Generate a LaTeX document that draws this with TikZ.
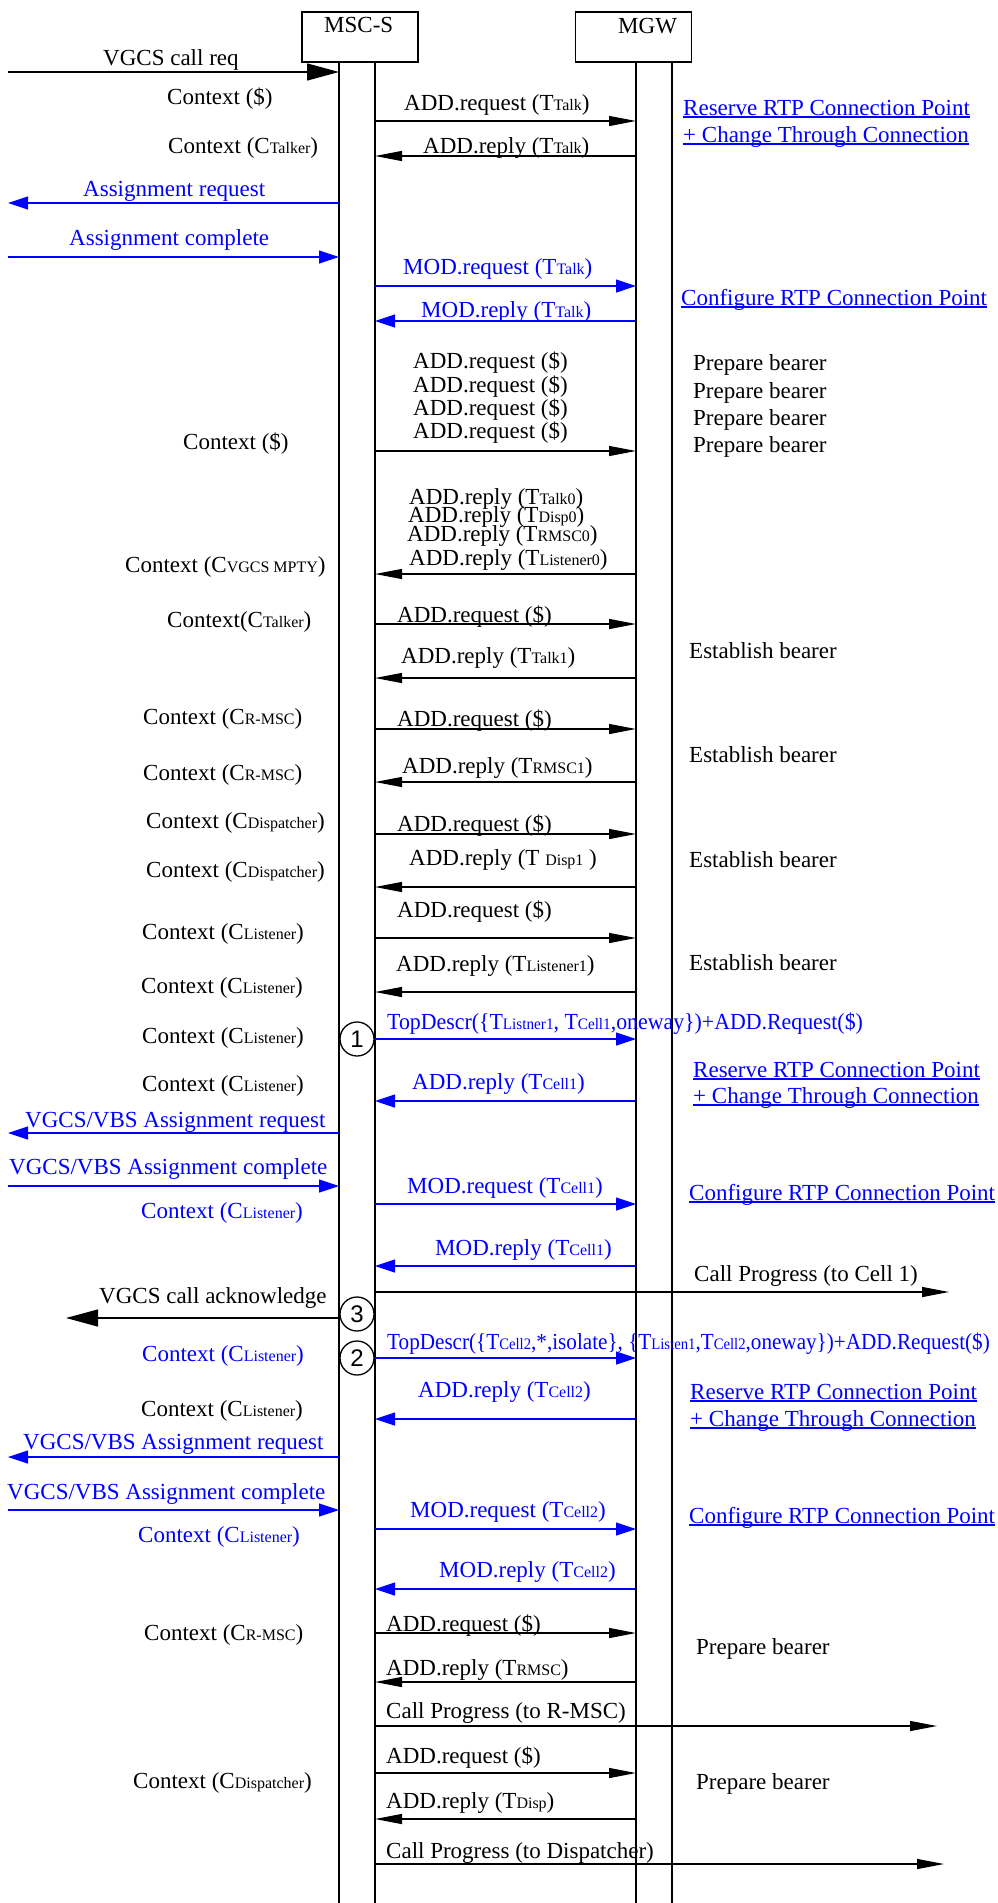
\documentclass[tikz,border=0pt]{standalone}
\usepackage{fontspec}
\setmainfont{Liberation Serif}
\newfontfamily\numfont{Liberation Sans}
\usetikzlibrary{arrows.meta}

\definecolor{sigblue}{RGB}{0,0,255}
\newcommand\msgfont{\fontsize{23}{26}\selectfont}
\newcommand\sm[1]{{\fontsize{16}{16}\selectfont #1}}
\newsavebox\lnkbox
\newcommand\lnk[1]{\sbox\lnkbox{#1}\rlap{\rule[-2.5pt]{\wd\lnkbox}{1.1pt}}\usebox\lnkbox}

\begin{document}
\begin{tikzpicture}[x=1pt, y=-1pt,
    head/.style={rectangle, draw, line width=1.6pt, minimum width=116pt, minimum height=50pt, inner sep=0pt},
    life/.style={line width=1.5pt},
    txt/.style={anchor=base west, inner sep=0pt, font=\msgfont},
    btxt/.style={txt, text=sigblue},
    msg/.style={line width=1.2pt, -{Triangle[length=27pt,width=10pt]}},
    big/.style={line width=1.2pt, -{Triangle[length=32pt,width=17pt]}},
    sig/.style={line width=1.2pt, sigblue, -{Triangle[length=20pt,width=13pt]}},
    num/.style={circle, draw, fill=white, line width=1.3pt, minimum size=34pt, inner sep=0pt, font=\numfont\fontsize{24}{24}\selectfont}
]
\useasboundingbox (0,0) rectangle (997,1903);

% heads
\node[head] (msc) at (360,37) {};
\node[head] (mgw) at (633.5,37) {};
\node[txt] (msclbl) at (324,32) {MSC-S};
\node[txt] (mgwlbl) at (618,33) {MGW};

% lifelines and far ends
\coordinate (sL) at (339,62);
\coordinate (sR) at (375,62);
\coordinate (gL) at (636,62);
\coordinate (gR) at (672,62);
\coordinate (bot) at (0,1903);
\coordinate (env) at (8,0);
\coordinate (ack) at (66,0);
\coordinate (cp1) at (949,0);
\coordinate (cp2) at (937,0);
\coordinate (cp3) at (944,0);
\foreach \l in {sL,sR,gL,gR} \draw[life] (\l) -- (\l |- bot);

% message rows
\foreach \n/\y in {1/72, 2/121, 3/156, 4/203, 5/257, 6/286, 7/321, 8/451, 9/574,
    10/624, 11/678, 12/729, 13/782, 14/834, 15/887, 16/938, 17/992,
    19/1101, 20/1133, 21/1186, 22/1204, 23/1266, 24/1292, 25/1318,
    27/1419, 28/1457, 29/1510, 30/1529, 31/1589, 32/1633, 33/1682,
    34/1726, 35/1773, 36/1819, 37/1864}
    \coordinate (r\n) at (0,\y);

% step markers
\node[num] (n1) at (357,1039) {1};
\node[num] (n3) at (357,1314) {3};
\node[num] (n2) at (357,1358) {2};

% left column
\node[txt] (callreq) at (103,65) {VGCS call req};
\node[txt] (ctx1) at (167,104) {Context (\$)};
\node[txt] (ctx2) at (168,153) {Context (C\sm{Talker})};
\node[btxt] (asgreq) at (83,196) {Assignment request};
\node[btxt] (asgcmp) at (69,245) {Assignment complete};
\node[txt] (ctx3) at (183,449) {Context (\$)};
\node[txt] (ctx4) at (125,572) {Context (C\sm{VGCS MPTY})};
\node[txt] (ctx5) at (167,627) {Context(C\sm{Talker})};
\node[txt] (ctx6) at (143,724) {Context (C\sm{R-MSC})};
\node[txt] (ctx7) at (143,780) {Context (C\sm{R-MSC})};
\node[txt] (ctx8) at (146,828) {Context (C\sm{Dispatcher})};
\node[txt] (ctx9) at (146,877) {Context (C\sm{Dispatcher})};
\node[txt] (ctx10) at (142,939) {Context (C\sm{Listener})};
\node[txt] (ctx11) at (141,993) {Context (C\sm{Listener})};
\node[txt] (ctx12) at (142,1043) {Context (C\sm{Listener})};
\node[txt] (ctx13) at (142,1091) {Context (C\sm{Listener})};
\node[btxt] (vbsreq1) at (25,1127) {VGCS/VBS Assignment request};
\node[btxt] (vbscmp1) at (9,1174) {VGCS/VBS Assignment complete};
\node[btxt] (ctx14) at (141,1218) {Context (C\sm{Listener})};
\node[txt] (callack) at (99,1303) {VGCS call acknowledge};
\node[btxt] (ctx15) at (142,1361) {Context (C\sm{Listener})};
\node[txt] (ctx16) at (141,1416) {Context (C\sm{Listener})};
\node[btxt] (vbsreq2) at (23,1449) {VGCS/VBS Assignment request};
\node[btxt] (vbscmp2) at (7,1499) {VGCS/VBS Assignment complete};
\node[btxt] (ctx17) at (138,1542) {Context (C\sm{Listener})};
\node[txt] (ctx18) at (144,1640) {Context (C\sm{R-MSC})};
\node[txt] (ctx19) at (133,1788) {Context (C\sm{Dispatcher})};

% message labels
\node[txt] (m2) at (404,110) {ADD.request (T\sm{Talk})};
\node[txt] (m3) at (423,153) {ADD.reply (T\sm{Talk})};
\node[btxt] (m6) at (403,274) {MOD.request (T\sm{Talk})};
\node[btxt] (m7) at (421,317) {MOD.reply (T\sm{Talk})};
\foreach \y [count=\i] in {368,392,415,438}
    \node[txt] (addq\i) at (413,\y) {ADD.request (\$)};
\node[txt] (rp1) at (409,504) {ADD.reply (T\sm{Talk0})};
\node[txt] (rp2) at (408,522) {ADD.reply (T\sm{Disp0})};
\node[txt] (rp3) at (407,541) {ADD.reply (T\sm{RMSC0})};
\node[txt] (rp4) at (409,565) {ADD.reply (T\sm{Listener0})};
\node[txt] (m10) at (397,622) {ADD.request (\$)};
\node[txt] (m11) at (401,663) {ADD.reply (T\sm{Talk1})};
\node[txt] (m12) at (397,726) {ADD.request (\$)};
\node[txt] (m13) at (402,773) {ADD.reply (T\sm{RMSC1})};
\node[txt] (m14) at (397,831) {ADD.request (\$)};
\node[txt] (m15) at (409,865) {ADD.reply (T \sm{Disp1} )};
\node[txt] (m16) at (397,917) {ADD.request (\$)};
\node[txt] (m17) at (396,971) {ADD.reply (T\sm{Listener1})};
\node[btxt] (m18) at (387,1029) {\scalebox{0.95}[1]{TopDescr(\{T\sm{Listner1}, T\sm{Cell1},oneway\})+ADD.Request(\$)}};
\node[btxt] (m19) at (412,1089) {ADD.reply (T\sm{Cell1})};
\node[btxt] (m22) at (407,1193) {MOD.request (T\sm{Cell1})};
\node[btxt] (m23) at (435,1255) {MOD.reply (T\sm{Cell1})};
\node[btxt] (m26) at (387,1349) {\scalebox{0.92}[1]{TopDescr(\{T\sm{Cell2},*,isolate\}, \{T\sm{Listen1},T\sm{Cell2},oneway\})+ADD.Request(\$)}};
\node[btxt] (m27) at (418,1397) {ADD.reply (T\sm{Cell2})};
\node[btxt] (m30) at (410,1517) {MOD.request (T\sm{Cell2})};
\node[btxt] (m31) at (439,1577) {MOD.reply (T\sm{Cell2})};
\node[txt] (m32) at (386,1631) {ADD.request (\$)};
\node[txt] (m33) at (386,1675) {ADD.reply (T\sm{RMSC})};
\node[txt] (m34) at (386,1718) {Call Progress (to R-MSC)};
\node[txt] (m35) at (386,1763) {ADD.request (\$)};
\node[txt] (m36) at (386,1808) {ADD.reply (T\sm{Disp})};
\node[txt] (m37) at (386,1858) {Call Progress (to Dispatcher)};

% notes on the right
\node[btxt] (rsv1) at (683,115) {\lnk{Reserve RTP Connection Point}};
\node[btxt] (chg1) at (683,142) {\lnk{+ Change Through Connection}};
\node[btxt] (cfg1) at (681,305) {\lnk{Configure RTP Connection Point}};
\foreach \y [count=\i] in {370,398,425,452}
    \node[txt] (prep\i) at (693,\y) {Prepare bearer};
\node[txt] (est1) at (689,658) {Establish bearer};
\node[txt] (est2) at (689,762) {Establish bearer};
\node[txt] (est3) at (689,867) {Establish bearer};
\node[txt] (est4) at (689,970) {Establish bearer};
\node[btxt] (rsv2) at (693,1077) {\lnk{Reserve RTP Connection Point}};
\node[btxt] (chg2) at (693,1103) {\lnk{+ Change Through Connection}};
\node[btxt] (cfg2) at (689,1200) {\lnk{Configure RTP Connection Point}};
\node[txt] (cell1) at (694,1281) {Call Progress (to Cell 1)};
\node[btxt] (rsv3) at (690,1399) {\lnk{Reserve RTP Connection Point}};
\node[btxt] (chg3) at (690,1426) {\lnk{+ Change Through Connection}};
\node[btxt] (cfg3) at (689,1523) {\lnk{Configure RTP Connection Point}};
\node[txt] (prep5) at (696,1654) {Prepare bearer};
\node[txt] (prep6) at (696,1789) {Prepare bearer};

% messages
\draw[big] (env |- r1) -- (sL |- r1);
\draw[msg] (sR |- r2) -- (gL |- r2);
\draw[msg] (gL |- r3) -- (sR |- r3);
\draw[sig] (sL |- r4) -- (env |- r4);
\draw[sig] (env |- r5) -- (sL |- r5);
\draw[sig] (sR |- r6) -- (gL |- r6);
\draw[sig] (gL |- r7) -- (sR |- r7);
\draw[msg] (sR |- r8) -- (gL |- r8);
\draw[msg] (gL |- r9) -- (sR |- r9);
\draw[msg] (sR |- r10) -- (gL |- r10);
\draw[msg] (gL |- r11) -- (sR |- r11);
\draw[msg] (sR |- r12) -- (gL |- r12);
\draw[msg] (gL |- r13) -- (sR |- r13);
\draw[msg] (sR |- r14) -- (gL |- r14);
\draw[msg] (gL |- r15) -- (sR |- r15);
\draw[msg] (sR |- r16) -- (gL |- r16);
\draw[msg] (gL |- r17) -- (sR |- r17);
\draw[sig] (n1) -- (gL |- n1);
\draw[sig] (gL |- r19) -- (sR |- r19);
\draw[sig] (sL |- r20) -- (env |- r20);
\draw[sig] (env |- r21) -- (sL |- r21);
\draw[sig] (sR |- r22) -- (gL |- r22);
\draw[sig] (gL |- r23) -- (sR |- r23);
\draw[msg] (sR |- r24) -- (cp1 |- r24);
\draw[big] (sL |- r25) -- (ack |- r25);
\draw[sig] (n2) -- (gL |- n2);
\draw[sig] (gL |- r27) -- (sR |- r27);
\draw[sig] (sL |- r28) -- (env |- r28);
\draw[sig] (env |- r29) -- (sL |- r29);
\draw[sig] (sR |- r30) -- (gL |- r30);
\draw[sig] (gL |- r31) -- (sR |- r31);
\draw[msg] (sR |- r32) -- (gL |- r32);
\draw[msg] (gL |- r33) -- (sR |- r33);
\draw[msg] (sR |- r34) -- (cp2 |- r34);
\draw[msg] (sR |- r35) -- (gL |- r35);
\draw[msg] (gL |- r36) -- (sR |- r36);
\draw[msg] (sR |- r37) -- (cp3 |- r37);
\end{tikzpicture}
\end{document}
